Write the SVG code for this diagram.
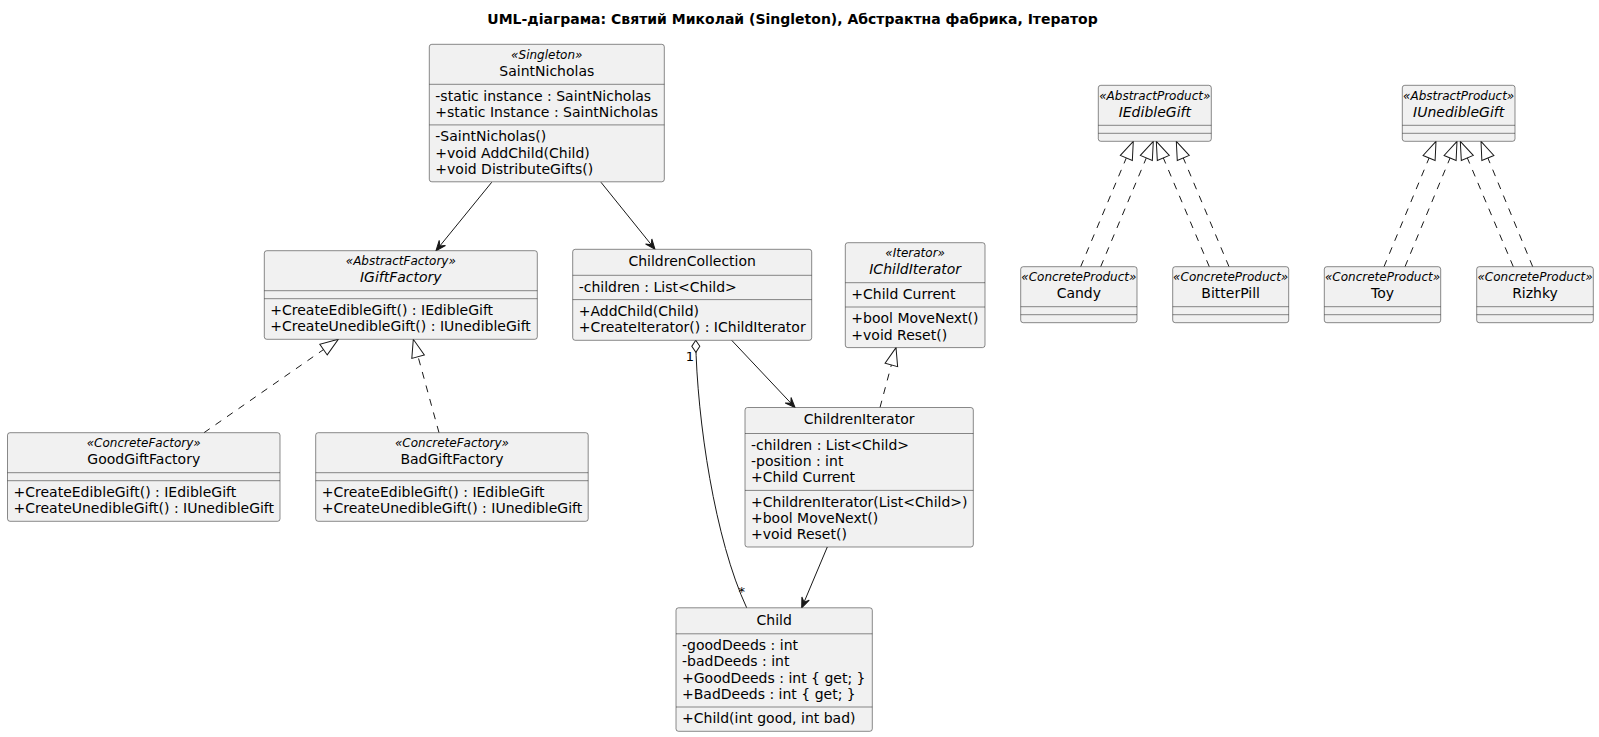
<svg xmlns="http://www.w3.org/2000/svg" width="1599" height="737" viewBox="0 0 1599 737">
<style>
.box{fill:#F1F1F1;stroke:#181818;stroke-width:0.5}
.sep{stroke:#181818;stroke-width:0.5}
text{font-family:"DejaVu Sans",sans-serif;fill:#000000}
.m{font-size:14px}
.n{font-size:14px;text-anchor:middle}
.ni{font-size:14px;text-anchor:middle;font-style:italic}
.st{font-size:12px;text-anchor:middle;font-style:italic}
.title{font-size:14px;font-weight:bold;text-anchor:middle}
.edge{fill:none;stroke:#181818;stroke-width:1}
.dash{stroke-dasharray:7,7}
.lbl{font-size:13px}
</style>
<defs>
<marker id="arr" markerUnits="userSpaceOnUse" orient="auto" overflow="visible" markerWidth="12" markerHeight="12" refX="0" refY="0">
<path d="M0,0 L-10,-4 L-6,0 L-10,4 Z" fill="#181818" stroke="#181818" stroke-width="1" stroke-dasharray="none"/>
</marker>
<marker id="tri" markerUnits="userSpaceOnUse" orient="auto" overflow="visible" markerWidth="20" markerHeight="20" refX="0" refY="0">
<path d="M0,0 L-18,-6.5 L-18,6.5 Z" fill="#FFFFFF" stroke="#181818" stroke-width="1" stroke-dasharray="none"/>
</marker>
<marker id="dia" markerUnits="userSpaceOnUse" orient="auto" overflow="visible" markerWidth="14" markerHeight="14" refX="0" refY="0">
<path d="M0,0 L6,-4 L12,0 L6,4 Z" fill="#FFFFFF" stroke="#181818" stroke-width="1" stroke-dasharray="none"/>
</marker>
</defs>
<rect width="1599" height="737" fill="#FFFFFF"/>
<text class="title" x="792.5" y="24">UML-діаграма: Святий Миколай (Singleton), Абстрактна фабрика, Ітератор</text>

<g id="connectors">
<path class="edge" d="M491.7,182.3 L436,250.7" marker-end="url(#arr)"/>
<path class="edge" d="M601,182.3 L655,249.3" marker-end="url(#arr)"/>
<path class="edge" d="M731.7,340.3 L795,407.5" marker-end="url(#arr)"/>
<path class="edge" d="M827.3,547 L801.7,607.8" marker-end="url(#arr)"/>
<path class="edge" d="M695.7,340.3 C697,420 715,540 746.7,607.8" marker-start="url(#dia)"/>
<text class="lbl" x="694" y="360.5" text-anchor="end">1</text>
<text class="lbl" x="745" y="596" text-anchor="end">*</text>
<path class="edge dash" d="M204,432.7 L338.3,339.3" marker-end="url(#tri)"/>
<path class="edge dash" d="M439,432.7 L413.3,339.3" marker-end="url(#tri)"/>
<path class="edge dash" d="M880,407.5 L896,347.6" marker-end="url(#tri)"/>
<path class="edge dash" d="M1080.7,266.7 L1133.3,141.3" marker-end="url(#tri)"/>
<path class="edge dash" d="M1100.7,266.7 L1153.3,141.3" marker-end="url(#tri)"/>
<path class="edge dash" d="M1209.3,266.7 L1156.3,141.3" marker-end="url(#tri)"/>
<path class="edge dash" d="M1229,266.7 L1176.3,141.3" marker-end="url(#tri)"/>
<path class="edge dash" d="M1384,266.7 L1436,141.3" marker-end="url(#tri)"/>
<path class="edge dash" d="M1405,266.7 L1457,141.3" marker-end="url(#tri)"/>
<path class="edge dash" d="M1513.3,266.7 L1460.3,141.3" marker-end="url(#tri)"/>
<path class="edge dash" d="M1532.7,266.7 L1481,141.3" marker-end="url(#tri)"/>
</g>

<g id="SaintNicholas">
<rect class="box" x="429.3" y="44.3" width="235" height="137.5" rx="2.5"/>
<text class="st" x="546.8" y="59">«Singleton»</text>
<text class="n" x="546.8" y="75.6">SaintNicholas</text>
<line class="sep" x1="429.3" y1="84.3" x2="664.3" y2="84.3"/>
<text class="m" x="435.3" y="100.8">-static instance : SaintNicholas</text>
<text class="m" x="435.3" y="117.1">+static Instance : SaintNicholas</text>
<line class="sep" x1="429.3" y1="124.9" x2="664.3" y2="124.9"/>
<text class="m" x="435.3" y="141.2">-SaintNicholas()</text>
<text class="m" x="435.3" y="157.5">+void AddChild(Child)</text>
<text class="m" x="435.3" y="173.8">+void DistributeGifts()</text>
</g>

<g id="IGiftFactory">
<rect class="box" x="264.3" y="250.7" width="273" height="88.6" rx="2.5"/>
<text class="st" x="400.8" y="265.4">«AbstractFactory»</text>
<text class="ni" x="400.8" y="282">IGiftFactory</text>
<line class="sep" x1="264.3" y1="290.7" x2="537.3" y2="290.7"/>
<line class="sep" x1="264.3" y1="298.7" x2="537.3" y2="298.7"/>
<text class="m" x="270.3" y="315">+CreateEdibleGift() : IEdibleGift</text>
<text class="m" x="270.3" y="331.3">+CreateUnedibleGift() : IUnedibleGift</text>
</g>

<g id="ChildrenCollection">
<rect class="box" x="572.7" y="249.3" width="239" height="91" rx="2.5"/>
<text class="n" x="692.2" y="266">ChildrenCollection</text>
<line class="sep" x1="572.7" y1="275.3" x2="811.7" y2="275.3"/>
<text class="m" x="578.7" y="291.6">-children : List&lt;Child&gt;</text>
<line class="sep" x1="572.7" y1="299.6" x2="811.7" y2="299.6"/>
<text class="m" x="578.7" y="315.9">+AddChild(Child)</text>
<text class="m" x="578.7" y="332.2">+CreateIterator() : IChildIterator</text>
</g>

<g id="IChildIterator">
<rect class="box" x="845.3" y="242.7" width="139.7" height="104.9" rx="2.5"/>
<text class="st" x="915.15" y="257.4">«Iterator»</text>
<text class="ni" x="915.15" y="274">IChildIterator</text>
<line class="sep" x1="845.3" y1="282.7" x2="985" y2="282.7"/>
<text class="m" x="851.3" y="299">+Child Current</text>
<line class="sep" x1="845.3" y1="307" x2="985" y2="307"/>
<text class="m" x="851.3" y="323.3">+bool MoveNext()</text>
<text class="m" x="851.3" y="339.6">+void Reset()</text>
</g>

<g id="ChildrenIterator">
<rect class="box" x="745" y="407.5" width="228.3" height="139.5" rx="2.5"/>
<text class="n" x="859.15" y="424.2">ChildrenIterator</text>
<line class="sep" x1="745" y1="433.5" x2="973.3" y2="433.5"/>
<text class="m" x="751" y="449.8">-children : List&lt;Child&gt;</text>
<text class="m" x="751" y="466.1">-position : int</text>
<text class="m" x="751" y="482.4">+Child Current</text>
<line class="sep" x1="745" y1="490.4" x2="973.3" y2="490.4"/>
<text class="m" x="751" y="506.7">+ChildrenIterator(List&lt;Child&gt;)</text>
<text class="m" x="751" y="523">+bool MoveNext()</text>
<text class="m" x="751" y="539.3">+void Reset()</text>
</g>

<g id="GoodGiftFactory">
<rect class="box" x="7.5" y="432.7" width="272.5" height="88.6" rx="2.5"/>
<text class="st" x="143.75" y="447.4">«ConcreteFactory»</text>
<text class="n" x="143.75" y="464">GoodGiftFactory</text>
<line class="sep" x1="7.5" y1="472.7" x2="280" y2="472.7"/>
<line class="sep" x1="7.5" y1="480.7" x2="280" y2="480.7"/>
<text class="m" x="13.5" y="497">+CreateEdibleGift() : IEdibleGift</text>
<text class="m" x="13.5" y="513.3">+CreateUnedibleGift() : IUnedibleGift</text>
</g>

<g id="BadGiftFactory">
<rect class="box" x="315.7" y="432.7" width="272.5" height="88.6" rx="2.5"/>
<text class="st" x="451.95" y="447.4">«ConcreteFactory»</text>
<text class="n" x="451.95" y="464">BadGiftFactory</text>
<line class="sep" x1="315.7" y1="472.7" x2="588.2" y2="472.7"/>
<line class="sep" x1="315.7" y1="480.7" x2="588.2" y2="480.7"/>
<text class="m" x="321.7" y="497">+CreateEdibleGift() : IEdibleGift</text>
<text class="m" x="321.7" y="513.3">+CreateUnedibleGift() : IUnedibleGift</text>
</g>

<g id="Child">
<rect class="box" x="676" y="607.8" width="196.3" height="123.5" rx="2.5"/>
<text class="n" x="774.15" y="624.5">Child</text>
<line class="sep" x1="676" y1="633.8" x2="872.3" y2="633.8"/>
<text class="m" x="682" y="650.1">-goodDeeds : int</text>
<text class="m" x="682" y="666.4">-badDeeds : int</text>
<text class="m" x="682" y="682.7">+GoodDeeds : int { get; }</text>
<text class="m" x="682" y="699">+BadDeeds : int { get; }</text>
<line class="sep" x1="676" y1="707" x2="872.3" y2="707"/>
<text class="m" x="682" y="723.3">+Child(int good, int bad)</text>
</g>

<g id="IEdibleGift">
<rect class="box" x="1098.3" y="85.3" width="113" height="56" rx="2.5"/>
<text class="st" x="1154.8" y="100">«AbstractProduct»</text>
<text class="ni" x="1154.8" y="116.6">IEdibleGift</text>
<line class="sep" x1="1098.3" y1="125.3" x2="1211.3" y2="125.3"/>
<line class="sep" x1="1098.3" y1="133.3" x2="1211.3" y2="133.3"/>
</g>

<g id="Candy">
<rect class="box" x="1020.7" y="266.7" width="116.3" height="56" rx="2.5"/>
<text class="st" x="1078.85" y="281.4">«ConcreteProduct»</text>
<text class="n" x="1078.85" y="298">Candy</text>
<line class="sep" x1="1020.7" y1="306.7" x2="1137" y2="306.7"/>
<line class="sep" x1="1020.7" y1="314.7" x2="1137" y2="314.7"/>
</g>

<g id="BitterPill">
<rect class="box" x="1172.7" y="266.7" width="116" height="56" rx="2.5"/>
<text class="st" x="1230.7" y="281.4">«ConcreteProduct»</text>
<text class="n" x="1230.7" y="298">BitterPill</text>
<line class="sep" x1="1172.7" y1="306.7" x2="1288.7" y2="306.7"/>
<line class="sep" x1="1172.7" y1="314.7" x2="1288.7" y2="314.7"/>
</g>

<g id="IUnedibleGift">
<rect class="box" x="1402.3" y="85.3" width="112.7" height="56" rx="2.5"/>
<text class="st" x="1458.65" y="100">«AbstractProduct»</text>
<text class="ni" x="1458.65" y="116.6">IUnedibleGift</text>
<line class="sep" x1="1402.3" y1="125.3" x2="1515" y2="125.3"/>
<line class="sep" x1="1402.3" y1="133.3" x2="1515" y2="133.3"/>
</g>

<g id="Toy">
<rect class="box" x="1324.3" y="266.7" width="116.4" height="56" rx="2.5"/>
<text class="st" x="1382.5" y="281.4">«ConcreteProduct»</text>
<text class="n" x="1382.5" y="298">Toy</text>
<line class="sep" x1="1324.3" y1="306.7" x2="1440.7" y2="306.7"/>
<line class="sep" x1="1324.3" y1="314.7" x2="1440.7" y2="314.7"/>
</g>

<g id="Rizhky">
<rect class="box" x="1476.7" y="266.7" width="116.6" height="56" rx="2.5"/>
<text class="st" x="1535" y="281.4">«ConcreteProduct»</text>
<text class="n" x="1535" y="298">Rizhky</text>
<line class="sep" x1="1476.7" y1="306.7" x2="1593.3" y2="306.7"/>
<line class="sep" x1="1476.7" y1="314.7" x2="1593.3" y2="314.7"/>
</g>
</svg>
